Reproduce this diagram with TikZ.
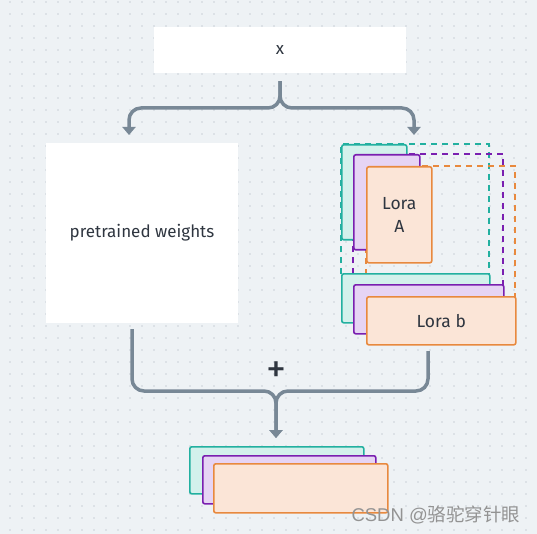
\documentclass[tikz,border=0pt]{standalone}
\usepackage{fontspec}
\setmainfont{Fira Sans}
\newfontfamily\wmfont{Liberation Sans}
\newfontfamily\cjk{Noto Sans CJK SC}
\usetikzlibrary{positioning, arrows.meta}

\definecolor{bgc}{HTML}{EEF2F5}
\definecolor{dotc}{HTML}{CBD1D7}
\definecolor{flowc}{HTML}{788896}
\definecolor{txtc}{HTML}{2F3640}
\definecolor{tealD}{HTML}{22B0A0}
\definecolor{tealL}{HTML}{D3F1EC}
\definecolor{purD}{HTML}{7A1FB0}
\definecolor{purL}{HTML}{E6D4F4}
\definecolor{oraD}{HTML}{E8893E}
\definecolor{oraL}{HTML}{FBE5D7}

\tikzset{
  plain/.style={fill=white,draw=none,inner sep=0pt,font=\fontsize{17}{20}\selectfont,text=txtc},
  layer/.style={rectangle,rounded corners=2pt,line width=1.6pt,inner sep=0pt,anchor=north west,
    font=\fontsize{17.5}{23}\selectfont,text=txtc,align=center},
  tealbox/.style={layer,draw=tealD,fill=tealL},
  purbox/.style={layer,draw=purD,fill=purL},
  orabox/.style={layer,draw=oraD,fill=oraL},
  ghost/.style={line width=1.6pt,dash pattern=on 6pt off 5pt},
  flow/.style={draw=flowc,line width=3.5pt,rounded corners=12pt,-{Triangle[width=13pt,length=8pt]}}
}

\begin{document}
\begin{tikzpicture}[x=1pt,y=-1pt]
	\fill[bgc] (0,0) rectangle (537,534);
	\useasboundingbox (0,0) rectangle (537,534);
	\foreach \i in {0,...,44}
		\foreach \j in {0,...,44}
			\fill[dotc] (10+12*\i,2+12*\j) circle (0.9);

	% input and frozen weights
	\node[plain,minimum width=252pt,minimum height=46pt] (xbox) at (280,50) {x};
	\node[plain,minimum width=192pt,minimum height=180pt] (pre) at (142,233) {pretrained weights};

	% lora layers, dashed outlines behind
	\draw[ghost,tealD] (341,274) -- (341,144) -- (489,144) -- (489,274);
	\draw[ghost,purD] (353,285) -- (353,154) -- (503,154) -- (503,285);
	\draw[ghost,oraD] (366,297) -- (366,166) -- (515,166) -- (515,297);

	\node[tealbox,minimum width=65pt,minimum height=95pt] (tealA) at (341,144) {};
	\node[purbox,minimum width=66pt,minimum height=95pt] (purA) at (353,154) {};
	\node[orabox,minimum width=65pt,minimum height=96pt] (loraA) at (366,166) {Lora\\A};
	\node[tealbox,minimum width=148pt,minimum height=49pt] (tealB) at (341,273) {};
	\node[purbox,minimum width=150pt,minimum height=49pt] (purB) at (353,284) {};
	\node[orabox,minimum width=149pt,minimum height=48pt] (loraB) at (366,296) {Lora b};

	% output stack
	\node[tealbox,minimum width=174pt,minimum height=47pt] (tealO) at (189,446) {};
	\node[purbox,minimum width=173pt,minimum height=48pt] (purO) at (202,455) {};
	\node[orabox,minimum width=174pt,minimum height=49pt] (out) at (213,463) {};

	% connectors
	\coordinate (split) at ([yshift=-8pt]xbox.south);
	\coordinate (inL) at (129,135);
	\coordinate (inR) at (414,135);
	\draw[flow] (split) -- (280,108) -- (inL |- 0,108) -- (inL);
	\draw[flow] (split) -- (280,108) -- (inR |- 0,108) -- (inR);

	\coordinate (fromL) at (132,329);
	\coordinate (fromR) at (428,351);
	\coordinate (join) at (276,438);
	\draw[flow] (fromL) -- (fromL |- 0,391) -- (join |- 0,391) -- (join);
	\draw[flow] (fromR) -- (fromR |- 0,391) -- (join |- 0,391) -- (join);
	\node[font=\fontsize{40}{40}\selectfont,text=txtc,inner sep=0pt] (plus) at (276,372) {+};

	% watermark
	\node[anchor=west,text=gray!85,font=\fontsize{18.5}{20}\selectfont] (mark) at (348,515) {\wmfont CSDN @\cjk 骆驼穿针眼};
\end{tikzpicture}
\end{document}
